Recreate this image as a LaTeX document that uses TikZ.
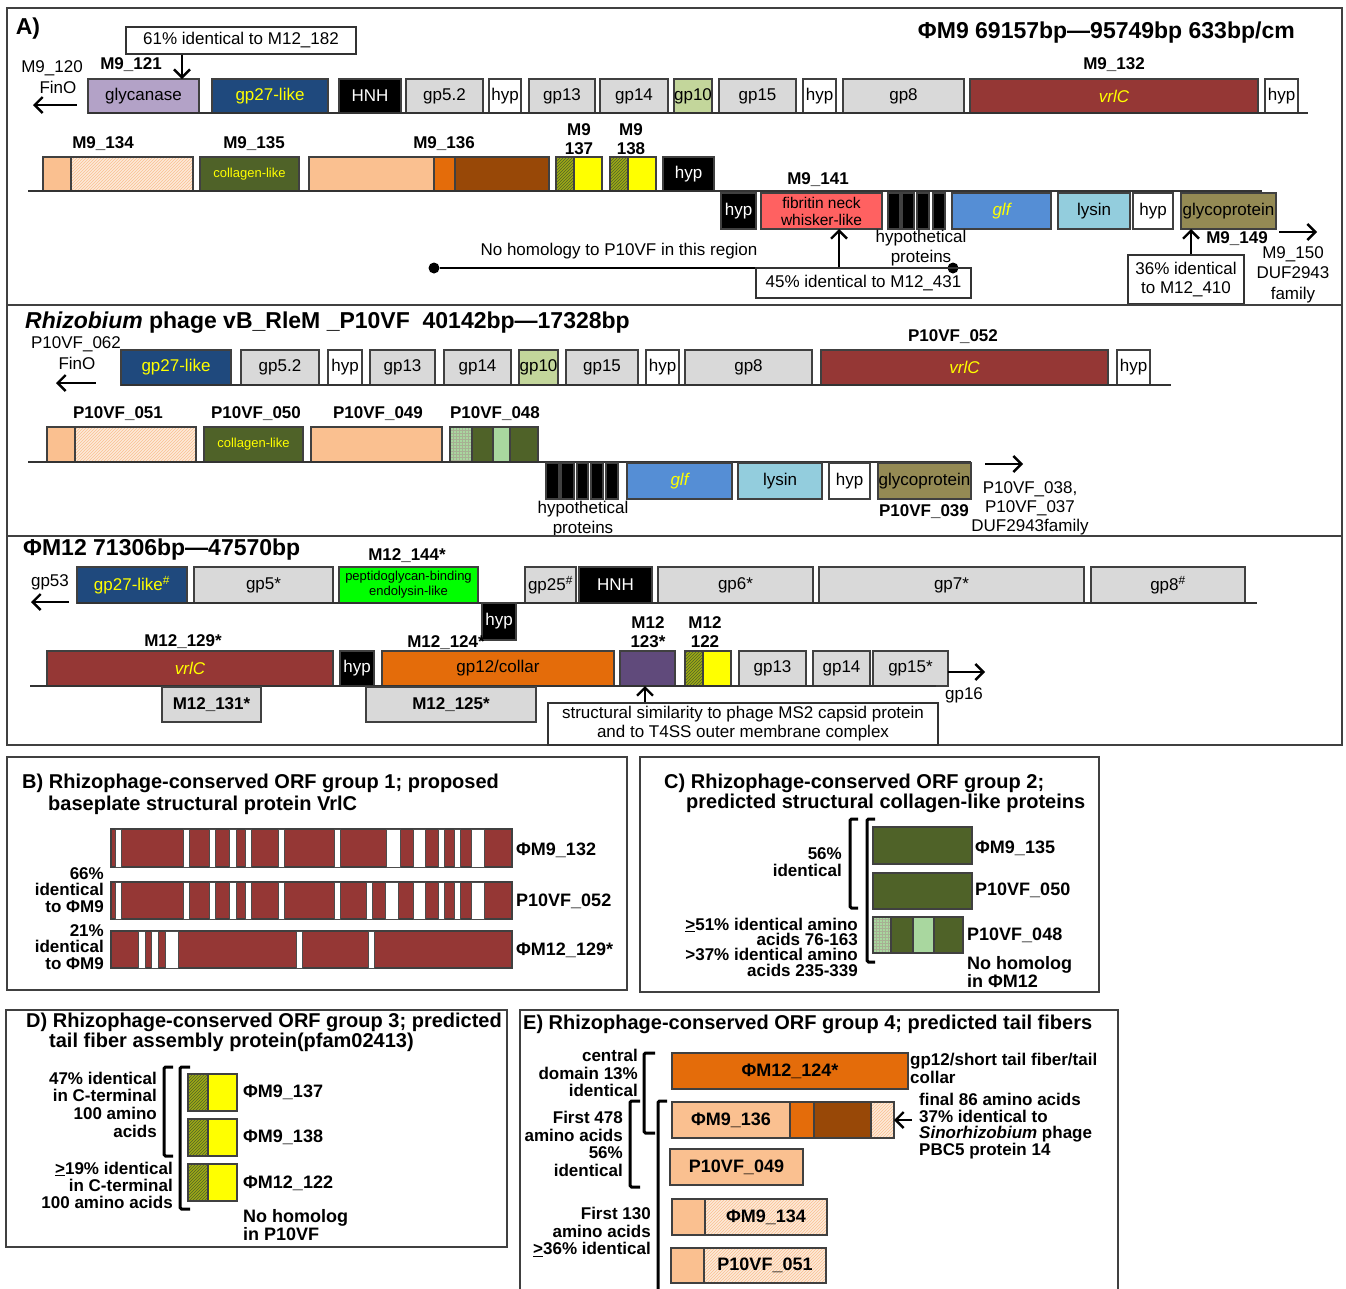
\documentclass[tikz,border=0pt]{standalone}
\usepackage{fontspec}
\setmainfont{Liberation Sans}
\usetikzlibrary{patterns,arrows.meta}
\definecolor{lav}{HTML}{B3A2C7}
\definecolor{navy}{HTML}{1F497D}
\definecolor{lgray}{HTML}{D9D9D9}
\definecolor{gpgreen}{HTML}{C3D69B}
\definecolor{vrl}{HTML}{953735}
\definecolor{peach}{HTML}{FAC090}
\definecolor{peachlt}{HTML}{FDEADA}
\definecolor{ogreen}{HTML}{4F6228}
\definecolor{orng}{HTML}{E46C0A}
\definecolor{brwn}{HTML}{984807}
\definecolor{yel}{HTML}{FFFF00}
\definecolor{fibred}{HTML}{FF6161}
\definecolor{glfblue}{HTML}{558ED5}
\definecolor{lysblue}{HTML}{93CDDD}
\definecolor{glyco}{HTML}{948A54}
\definecolor{limeg}{HTML}{00FF00}
\definecolor{purp}{HTML}{604A7B}
\definecolor{paleg}{HTML}{A9D79F}
\newcommand\fs[2]{\fontsize{#1}{#2}\selectfont}
\newcommand\gbox[7]{\node[gene,#6,minimum width={#3-#2},minimum height={#5-#4}] (#1) at ({(#2+#3)/2},{(#4+#5)/2}) {#7};}
\tikzset{
  gene/.style={draw=black!75,line width=1.2pt,inner sep=0pt,outer sep=0pt,font=\fs{17}{19},align=center},
  tag/.style={font=\bfseries\fs{17}{19},inner sep=0pt,align=center},
  note/.style={font=\fs{17}{19.5},inner sep=0pt,align=center},
  callout/.style={draw=black!80,line width=1.2pt,font=\fs{17}{19},inner sep=0pt,align=center},
  ptitle/.style={font=\bfseries\fs{20}{20},inner sep=0pt,anchor=west},
  bigtitle/.style={font=\bfseries\fs{23}{25},inner sep=0pt},
  side/.style={font=\bfseries\fs{17}{17},inner sep=0pt,align=right,anchor=east},
  rside/.style={font=\bfseries\fs{17}{18},inner sep=0pt,align=left,anchor=west},
  panel/.style={draw=black!75,line width=2pt},
  strand/.style={line width=1.5pt,draw=black!80},
  arr/.style={line width=2.4pt,-{Straight Barb[length=8pt,width=16pt]}},
  brk/.style={line width=3pt,rounded corners=1.5pt},
  dot/.style={circle,fill=black,inner sep=0pt,minimum size=11pt},
  stripe/.style={draw=black!70,fill=white,line width=0.8pt},
  hatchp/.style={preaction={fill=peachlt},pattern=north east lines,pattern color=peach},
  hatchg/.style={preaction={fill=ogreen!55!yel},pattern=north east lines,pattern color=ogreen},
  checkg/.style={preaction={fill=paleg},pattern=grid,pattern color=ogreen!50}
}
\begin{document}
\begin{tikzpicture}[x=1pt,y=-1pt]
\useasboundingbox (0,0) rectangle (1346,1288);
% panel A
\draw[panel] (7,8) rectangle (1342,305);
\node[bigtitle] (pA) at (28,29) {A)};
\node[bigtitle,anchor=east] (tA) at (1295,33) {ΦM9 69157bp—95749bp 633bp/cm};
\node[callout,minimum width=230,minimum height=27] (n61) at (241,40.5) {61\% identical to M12\_182};
\node[note] (m120) at (52,68) {M9\_120};
\node[note] (fino1) at (58,87) {FinO};
\coordinate (w1) at (33,105);
\draw[arr] (fino1.east |- w1) -- (w1);
\node[tag] (m121) at (131,65) {M9\_121};
\node[tag] (m132) at (1114,65) {M9\_132};
\gbox{glyc}{88}{199}{79}{113}{fill=lav}{glycanase}
\gbox{a27}{212}{328}{79}{113}{fill=navy,text=yel}{gp27-like}
\gbox{ahnh}{339}{401}{79}{113}{fill=black,text=white}{HNH}
\gbox{a52}{406}{483}{79}{113}{fill=lgray}{gp5.2}
\gbox{ahyp1}{489}{521}{79}{113}{fill=white}{hyp}
\gbox{a13}{529}{595}{79}{113}{fill=lgray}{gp13}
\gbox{a14}{600}{668}{79}{113}{fill=lgray}{gp14}
\gbox{a10}{674}{712}{79}{113}{fill=gpgreen}{gp10}
\gbox{a15}{719}{796}{79}{113}{fill=lgray}{gp15}
\gbox{ahyp2}{803}{836}{79}{113}{fill=white}{hyp}
\gbox{a8}{843}{964}{79}{113}{fill=lgray}{gp8}
\gbox{avrl}{970}{1258}{79}{113}{fill=vrl,text=yel,font=\itshape\fs{17}{19}}{vrlC}
\gbox{ahyp3}{1265}{1298}{79}{113}{fill=white}{hyp}
\coordinate (e1) at (1308,113);
\draw[strand] (glyc.south west) -- (e1);
\coordinate (c121) at (182,0);
\draw[arr] (n61.south -| c121) -- (glyc.north -| c121);
\node[tag] (l134) at (103,144) {M9\_134};
\node[tag] (l135) at (254,144) {M9\_135};
\node[tag] (l136) at (444,144) {M9\_136};
\node[tag] (l137) at (579,139.5) {M9\\137};
\node[tag] (l138) at (631,139.5) {M9\\138};
\gbox{b134a}{43}{71}{157}{191}{fill=peach}{}
\gbox{b134b}{71}{193}{157}{191}{hatchp}{}
\gbox{b135}{200}{299}{157}{191}{fill=ogreen,text=yel,font=\fs{13}{14}}{collagen-like}
\gbox{b136a}{309}{434}{157}{191}{fill=peach}{}
\gbox{b136b}{434}{455}{157}{191}{fill=orng}{}
\gbox{b136c}{455}{549}{157}{191}{fill=brwn}{}
\gbox{b137a}{556}{574}{157}{191}{hatchg}{}
\gbox{b137b}{574}{602}{157}{191}{fill=yel}{}
\gbox{b138a}{610}{628}{157}{191}{hatchg}{}
\gbox{b138b}{628}{656}{157}{191}{fill=yel}{}
\gbox{bhyp1}{663}{714}{157}{191}{fill=black,text=white}{hyp}
\coordinate (s2a) at (28,191);
\coordinate (s2b) at (1262,191);
\draw[strand] (s2a) -- (s2b);
\node[tag] (l141) at (818,180) {M9\_141};
\gbox{bhyp2}{721}{756}{193}{229}{fill=black,text=white}{hyp}
\gbox{fib}{761}{882}{193}{229}{fill=fibred,font=\fs{15.5}{17}}{fibritin neck\\whisker-like}
\gbox{hp1}{888}{900}{193}{229}{fill=black}{}
\gbox{hp2}{902}{914}{193}{229}{fill=black}{}
\gbox{hp3}{917}{929}{193}{229}{fill=black}{}
\gbox{hp4}{933}{945}{193}{229}{fill=black}{}
\gbox{glf}{952}{1051}{193}{229}{fill=glfblue,text=yel,font=\itshape\fs{17}{19}}{glf}
\gbox{lys}{1058}{1130}{193}{229}{fill=lysblue}{lysin}
\gbox{bhyp3}{1133}{1173}{193}{229}{fill=white}{hyp}
\gbox{gly}{1181}{1276}{193}{229}{fill=glyco}{glycoprotein}
\node[note] (hyptxt) at (921,248) {hypothetical\\proteins};
\node[note] (nohom) at (619,251) {No homology to P10VF in this region};
\node[dot] (d1) at (434,268) {};
\node[dot] (d2) at (953,268) {};
\draw[line width=1.5pt] (d1) -- (d2);
\node[callout,minimum width=215,minimum height=30] (n45) at (863.5,283) {45\% identical to M12\_431};
\coordinate (c141) at (839,0);
\draw[arr] (n45.north -| c141) -- (fib.south -| c141);
\node[callout,minimum width=116,minimum height=49,font=\fs{17}{19}] (n36) at (1186,279.5) {36\% identical\\to M12\_410};
\coordinate (c149) at (1191,0);
\draw[arr] (n36.north -| c149) -- (gly.south -| c149);
\node[tag] (l149) at (1237,239) {M9\_149};
\coordinate (r150) at (1317,232);
\draw[arr] ([xshift=-38pt]r150) -- (r150);
\node[note,font=\fs{17}{20.5}] (m150) at (1293,274.5) {M9\_150\\DUF2943\\family};
% panel P10VF
\draw[panel] (7,305) rectangle (1342,536);
\node[bigtitle,anchor=west] (tP) at (25,323) {\textit{Rhizobium} phage vB\_RleM \_P10VF~ 40142bp—17328bp};
\node[note] (p062) at (76,344) {P10VF\_062};
\node[note] (fino2) at (77,363) {FinO};
\coordinate (w2) at (56,383);
\draw[arr] (fino2.east |- w2) -- (w2);
\node[tag] (l052) at (953,337) {P10VF\_052};
\gbox{p27}{121}{231}{350}{385}{fill=navy,text=yel}{gp27-like}
\gbox{p52}{241}{319}{350}{385}{fill=lgray}{gp5.2}
\gbox{phyp1}{328}{362}{350}{385}{fill=white}{hyp}
\gbox{p13}{370}{435}{350}{385}{fill=lgray}{gp13}
\gbox{p14}{444}{511}{350}{385}{fill=lgray}{gp14}
\gbox{p10}{519}{558}{350}{385}{fill=gpgreen}{gp10}
\gbox{p15}{566}{638}{350}{385}{fill=lgray}{gp15}
\gbox{phyp2}{646}{679}{350}{385}{fill=white}{hyp}
\gbox{p8}{685}{812}{350}{385}{fill=lgray}{gp8}
\gbox{pvrl}{821}{1108}{350}{385}{fill=vrl,text=yel,font=\itshape\fs{17}{19}}{vrlC}
\gbox{phyp3}{1117}{1150}{350}{385}{fill=white}{hyp}
\coordinate (e3) at (1171,385);
\draw[strand] (p27.south west) -- (e3);
\node[tag] (l051) at (118,414) {P10VF\_051};
\node[tag] (l050) at (256,414) {P10VF\_050};
\node[tag] (l049) at (378,414) {P10VF\_049};
\node[tag] (l048) at (495,414) {P10VF\_048};
\gbox{q051a}{47}{75}{427}{462}{fill=peach}{}
\gbox{q051b}{75}{196}{427}{462}{hatchp}{}
\gbox{q050}{204}{303}{427}{462}{fill=ogreen,text=yel,font=\fs{13}{14}}{collagen-like}
\gbox{q049}{311}{442}{427}{462}{fill=peach}{}
\gbox{q048a}{450}{472}{427}{462}{checkg}{}
\gbox{q048b}{472}{493}{427}{462}{fill=ogreen}{}
\gbox{q048c}{493}{510}{427}{462}{fill=paleg}{}
\gbox{q048d}{510}{538}{427}{462}{fill=ogreen}{}
\coordinate (s4a) at (28,462);
\coordinate (s4b) at (971,462);
\draw[strand] (s4a) -- (s4b);
\gbox{qh1}{546}{559}{463}{499}{fill=black}{}
\gbox{qh2}{561}{574}{463}{499}{fill=black}{}
\gbox{qh3}{577}{588}{463}{499}{fill=black}{}
\gbox{qh4}{591}{603}{463}{499}{fill=black}{}
\gbox{qh5}{606}{618}{463}{499}{fill=black}{}
\gbox{qglf}{627}{732}{463}{499}{fill=glfblue,text=yel,font=\itshape\fs{17}{19}}{glf}
\gbox{qlys}{738}{822}{463}{499}{fill=lysblue}{lysin}
\gbox{qhyp}{829}{870}{463}{499}{fill=white}{hyp}
\gbox{qgly}{878}{971}{463}{499}{fill=glyco}{glycoprotein}
\node[note] (hyptxt2) at (583,519) {hypothetical\\proteins};
\node[tag] (l039) at (924,512) {P10VF\_039};
\coordinate (r038) at (1023,464);
\draw[arr] ([xshift=-38pt]r038) -- (r038);
\node[note,font=\fs{17}{19}] (p038) at (1030,508) {P10VF\_038,\\P10VF\_037\\DUF2943family};
% panel M12
\draw[panel] (7,536) rectangle (1342,745);
\node[bigtitle,anchor=west] (tM) at (23,550) {ΦM12 71306bp—47570bp};
\node[note] (g53) at (50,582) {gp53};
\coordinate (w3) at (31,602);
\draw[arr] ([xshift=38pt]w3) -- (w3);
\node[tag] (l144) at (407,556) {M12\_144*};
\gbox{m27}{77}{187}{567}{603}{fill=navy,text=yel}{gp27-like\textsuperscript{\#}}
\gbox{m5}{194}{333}{567}{603}{fill=lgray}{gp5*}
\gbox{mpep}{339}{478}{567}{603}{fill=limeg,font=\fs{13}{15}}{peptidoglycan-binding\\endolysin-like}
\gbox{m25}{525}{576}{567}{603}{fill=lgray}{gp25\textsuperscript{\#}}
\gbox{mhnh}{579}{652}{567}{603}{fill=black,text=white}{HNH}
\gbox{m6}{658}{813}{567}{603}{fill=lgray}{gp6*}
\gbox{m7}{819}{1084}{567}{603}{fill=lgray}{gp7*}
\gbox{m8}{1091}{1245}{567}{603}{fill=lgray}{gp8\textsuperscript{\#}}
\coordinate (e5) at (1257,603);
\draw[strand] (m27.south west) -- (e5);
\gbox{mhyp1}{482}{516}{603}{640}{fill=black,text=white}{hyp}
\node[tag] (l129) at (183,642) {M12\_129*};
\node[tag] (l124) at (446,643) {M12\_124*};
\node[tag] (l123) at (648,632) {M12\\123*};
\node[tag] (l122) at (705,632) {M12\\122};
\gbox{mvrl}{47}{333}{651}{686}{fill=vrl,text=yel,font=\itshape\fs{17}{19}}{vrlC}
\gbox{mhyp2}{340}{374}{651}{686}{fill=black,text=white}{hyp}
\gbox{m12}{382}{614}{651}{686}{fill=orng}{gp12/collar}
\gbox{m123}{620}{675}{651}{686}{fill=purp}{}
\gbox{m122a}{685}{703}{651}{686}{hatchg}{}
\gbox{m122b}{703}{731}{651}{686}{fill=yel}{}
\gbox{m13}{739}{806}{651}{686}{fill=lgray}{gp13}
\gbox{m14}{813}{870}{651}{686}{fill=lgray}{gp14}
\gbox{m15}{873}{948}{651}{686}{fill=lgray}{gp15*}
\coordinate (s6a) at (30,686);
\coordinate (s6b) at (936,686);
\draw[strand] (s6a) -- (s6b);
\gbox{m131}{162}{261}{687}{722}{fill=lgray,font=\bfseries\fs{17}{19}}{M12\_131*}
\gbox{m125}{366}{536}{687}{722}{fill=lgray,font=\bfseries\fs{17}{19}}{M12\_125*}
\coordinate (r16) at (985,672);
\draw[arr] (m15.east |- r16) -- (r16);
\node[note] (g16) at (964,695) {gp16};
\node[callout,minimum width=390,minimum height=42,font=\fs{17}{19}] (ms2) at (743,724) {structural similarity to phage MS2 capsid protein\\and to T4SS outer membrane complex};
\coordinate (c123) at (645,0);
\draw[arr] (ms2.north -| c123) -- (m123.south -| c123);
% panel B
\draw[panel] (7,757) rectangle (627,990);
\node[ptitle] (tB) at (22,783) {B) Rhizophage-conserved ORF group 1; proposed};
\node[ptitle] (tB2) at (48,805) {baseplate structural protein VrlC};
\gbox{v132}{111}{512}{829}{867}{fill=vrl}{}
\gbox{v052}{111}{512}{882}{919}{fill=vrl}{}
\gbox{v129}{111}{512}{931}{968}{fill=vrl}{}
\foreach \a/\b in {115.5/121.6,182.9/189,209.4/215.5,229.8/235.9,245.3/251.4,278/284,334.3/340.4,386.5/400,413/425.7,438/444.5,453.9/460,471.4/484.5}
  \draw[stripe] (\a,829) rectangle (\b,867);
\foreach \a/\b in {115.5/121.6,182.9/189,209.4/215.5,229.8/235.9,245.3/251.4,278/284,334.3/340.4,366/372,385/398,413/425.7,438/444.5,453.9/460,471.4/484.5}
  \draw[stripe] (\a,882) rectangle (\b,919);
\foreach \a/\b in {138.8/144.9,151.8/158.4,165.3/178.4,296.3/302.4,368/374.3}
  \draw[stripe] (\a,931) rectangle (\b,968);
\node[rside,font=\bfseries\fs{18}{19}] (lv132) at (516,850) {ΦM9\_132};
\node[rside,font=\bfseries\fs{18}{19}] (lv052) at (516,901) {P10VF\_052};
\node[rside,font=\bfseries\fs{18}{19}] (lv129) at (516,950) {ΦM12\_129*};
\node[side,font=\bfseries\fs{17}{16.5}] (s66) at (104,890) {66\%\\identical\\to ΦM9};
\node[side,font=\bfseries\fs{17}{16.5}] (s21) at (104,947) {21\%\\identical\\to ΦM9};
% panel C
\draw[panel] (640,757) rectangle (1099,992);
\node[ptitle] (tC) at (664,783) {C) Rhizophage-conserved ORF group 2;};
\node[ptitle] (tC2) at (686,803) {predicted structural collagen-like proteins};
\gbox{k135}{873}{972}{827}{864}{fill=ogreen}{}
\gbox{k050}{873}{972}{873}{909}{fill=ogreen}{}
\gbox{k048a}{873}{891}{917}{953}{checkg}{}
\gbox{k048b}{891}{913}{917}{953}{fill=ogreen}{}
\gbox{k048c}{913}{934}{917}{953}{fill=paleg}{}
\gbox{k048d}{934}{963}{917}{953}{fill=ogreen}{}
\node[rside,font=\bfseries\fs{18}{19}] (lk135) at (975,848) {ΦM9\_135};
\node[rside,font=\bfseries\fs{18}{19}] (lk050) at (975,890) {P10VF\_050};
\node[rside,font=\bfseries\fs{18}{19}] (lk048) at (967,935) {P10VF\_048};
\node[rside,font=\bfseries\fs{18}{18}] (nhC) at (967,972) {No homolog\\in ΦM12};
\node[side] (s56) at (842,862) {56\%\\identical};
\node[side,font=\bfseries\fs{17}{15.3}] (s51) at (858,947) {\underline{>}51\% identical amino\\acids 76-163\\>37\% identical amino\\acids 235-339};
\draw[brk] (858,819) -- (850,819) -- (850,908) -- (858,908);
\draw[brk] (875,819) -- (867,819) -- (867,962) -- (875,962);
% panel D
\draw[panel] (6,1010) rectangle (507,1247);
\node[ptitle] (tD) at (26,1022) {D) Rhizophage-conserved ORF group 3; predicted};
\node[ptitle] (tD2) at (49,1042) {tail fiber assembly protein(pfam02413)};
\gbox{f137a}{188}{208}{1074}{1111}{hatchg}{}
\gbox{f137b}{208}{237}{1074}{1111}{fill=yel}{}
\gbox{f138a}{188}{208}{1119}{1156}{hatchg}{}
\gbox{f138b}{208}{237}{1119}{1156}{fill=yel}{}
\gbox{f122a}{188}{208}{1164}{1201}{hatchg}{}
\gbox{f122b}{208}{237}{1164}{1201}{fill=yel}{}
\node[rside,font=\bfseries\fs{18}{19}] (lf137) at (243,1092) {ΦM9\_137};
\node[rside,font=\bfseries\fs{18}{19}] (lf138) at (243,1137) {ΦM9\_138};
\node[rside,font=\bfseries\fs{18}{19}] (lf122) at (243,1183) {ΦM12\_122};
\node[rside,font=\bfseries\fs{18}{18}] (nhD) at (243,1225) {No homolog\\in P10VF};
\node[side,font=\bfseries\fs{17}{17.7}] (s47) at (157,1104.5) {47\% identical\\in C-terminal\\100 amino\\acids};
\node[side,font=\bfseries\fs{17}{17}] (s19) at (173,1185) {\underline{>}19\% identical\\in C-terminal\\100 amino acids};
\draw[brk] (173,1067) -- (164,1067) -- (164,1156) -- (173,1156);
\draw[brk] (190,1067) -- (180,1067) -- (180,1209) -- (190,1209);
% panel E
\draw[panel] (520,1290) -- (520,1010) -- (1118,1010) -- (1118,1290);
\node[ptitle] (tE) at (523,1024) {E) Rhizophage-conserved ORF group 4; predicted tail fibers};
\gbox{e124}{672}{908}{1053}{1089}{fill=orng,font=\bfseries\fs{18}{19}}{ΦM12\_124*}
\gbox{e136a}{672}{790}{1102}{1138}{fill=peach,font=\bfseries\fs{18}{19}}{ΦM9\_136}
\gbox{e136b}{790}{814}{1102}{1138}{fill=orng}{}
\gbox{e136c}{814}{871}{1102}{1138}{fill=brwn}{}
\gbox{e136d}{871}{894}{1102}{1138}{hatchp}{}
\gbox{e049}{670}{803}{1149}{1185}{fill=peach,font=\bfseries\fs{18}{19}}{P10VF\_049}
\gbox{e134a}{672}{705}{1199}{1235}{fill=peach}{}
\gbox{e134b}{705}{827}{1199}{1235}{hatchp,font=\bfseries\fs{18}{19}}{ΦM9\_134}
\gbox{e051a}{671}{704}{1248}{1283}{fill=peach}{}
\gbox{e051b}{704}{826}{1248}{1283}{hatchp,font=\bfseries\fs{18}{19}}{P10VF\_051}
\node[rside] (gp12t) at (910,1068) {gp12/short tail fiber/tail\\collar};
\node[rside,font=\bfseries\fs{17}{16.5}] (fin86) at (919,1126) {final 86 amino acids\\37\% identical to\\\textit{Sinorhizobium} phage\\PBC5 protein 14};
\draw[arr] ([xshift=18pt]e136d.east) -- (e136d.east);
\node[side,font=\bfseries\fs{17}{17.5}] (sce) at (638,1073) {central\\domain 13\%\\identical};
\node[side,font=\bfseries\fs{17}{17.7}] (s478) at (623,1144) {First 478\\amino acids\\56\%\\identical};
\node[side,font=\bfseries\fs{17}{17.5}] (s130) at (651,1232) {First 130\\amino acids\\\underline{>}36\% identical};
\draw[brk] (655,1053) -- (644,1053) -- (644,1133) -- (655,1133);
\draw[brk] (640,1101) -- (630,1101) -- (630,1187) -- (640,1187);
\draw[brk] (667,1101) -- (658,1101) -- (658,1295);
\end{tikzpicture}
\end{document}
